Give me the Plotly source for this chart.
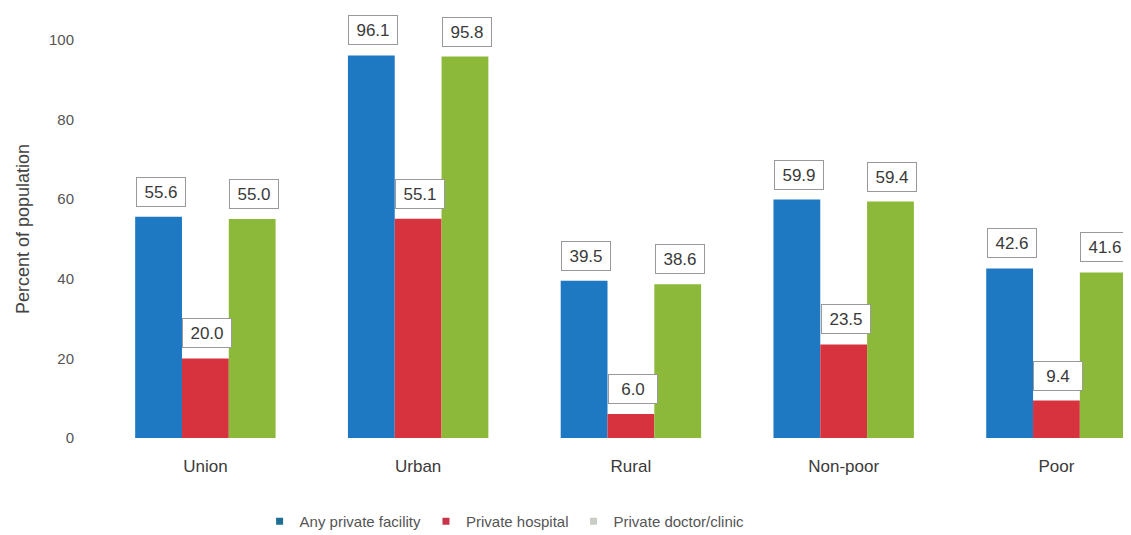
import plotly.graph_objects as go

categories = ["Union", "Urban", "Rural", "Non-poor", "Poor"]
series_names = ["Any private facility", "Private hospital", "Private doctor/clinic"]
any_private = [55.6, 96.1, 39.5, 59.9, 42.6]
private_hospital = [20.0, 55.1, 6.0, 23.5, 9.4]
private_doctor = [55.0, 95.8, 38.6, 59.4, 41.6]
y_ticks = [0, 20, 40, 60, 80, 100]

colors = ["#1E78C2", "#D6333F", "#8DB93A"]
legend_marker_colors = ["#1E6F95", "#C8344A", "#C9CEC4"]
series = [any_private, private_hospital, private_doctor]

FONT = "Liberation Sans Narrow, Arial Narrow, Liberation Sans, Arial, sans-serif"

fig = go.Figure()
for name, vals, col, lcol in zip(series_names, series, colors, legend_marker_colors):
    fig.add_trace(go.Bar(
        x=list(range(len(categories))), y=vals, name=name,
        marker=dict(color=col, line=dict(width=0)),
        showlegend=False,
    ))
    # legend proxy with small square marker
    fig.add_trace(go.Scatter(
        x=[None], y=[None], mode="markers", name=name,
        marker=dict(symbol="square", size=7, color=lcol),
    ))

bargap = 0.34
bar_w = (1 - bargap) / 3
for si, vals in enumerate(series):
    for ci, v in enumerate(vals):
        fig.add_annotation(
            x=ci + (si - 1) * bar_w, y=v, xref="x", yref="y",
            text=f"{v:.1f}", showarrow=False, yanchor="bottom", yshift=10,
            xshift=2,
            width=44, height=24, align="center", valign="middle",
            font=dict(family=FONT, size=17, color="#3a3a3a"),
            bgcolor="white", bordercolor="#999999", borderwidth=1, borderpad=2,
        )

fig.update_layout(
    width=1131, height=535,
    margin=dict(l=91, r=0, t=12, b=105),
    paper_bgcolor="white", plot_bgcolor="white",
    barmode="group", bargap=bargap, bargroupgap=0,
    font=dict(family=FONT, color="#444444"),
    xaxis=dict(
        type="linear", range=[-0.5, 4.388], tickmode="array",
        tickvals=list(range(len(categories))), ticktext=categories,
        showgrid=False, zeroline=False, showline=False, ticks="",
        ticklabelstandoff=16,
        tickfont=dict(family=FONT, size=17, color="#3a3a3a"),
    ),
    yaxis=dict(
        range=[0, 105], tickvals=y_ticks, showgrid=False, zeroline=False,
        showline=False, ticks="", ticklabelstandoff=24,
        tickfont=dict(family=FONT, size=15, color="#555555"),
        title=dict(text="Percent of population", standoff=14,
                   font=dict(family=FONT, size=18, color="#444444")),
    ),
    legend=dict(
        orientation="h", x=0.39, xanchor="center", y=-0.2, yanchor="middle",
        font=dict(family=FONT, size=15, color="#555555"),
        itemwidth=30, tracegroupgap=0,
    ),
)

fig.write_html("out.html")
